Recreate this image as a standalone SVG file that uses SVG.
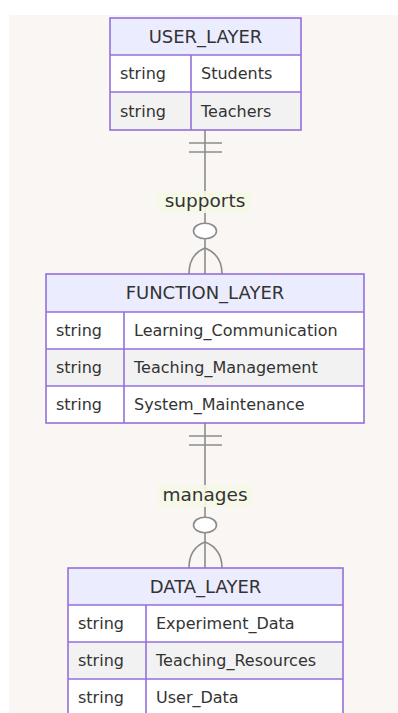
<svg xmlns="http://www.w3.org/2000/svg" width="398" height="713" viewBox="0 0 398 713">
  <style>
    .box { stroke: #9370db; stroke-width: 1.6; }
    .hdr { fill: #ececff; }
    .odd { fill: #ffffff; }
    .even { fill: #f2f2f2; }
    .div { stroke: #9370db; stroke-width: 1.6; }
    .title { font-family: "DejaVu Sans", "Liberation Sans", sans-serif; font-size: 18px; fill: #333333; text-anchor: middle; }
    .attr { font-family: "DejaVu Sans", "Liberation Sans", sans-serif; font-size: 16px; fill: #333333; }
    .rel { stroke: #8c8c8c; stroke-width: 1.6; fill: none; }
    .ring { stroke: #8c8c8c; stroke-width: 1.6; fill: #ffffff; }
    .lblbg { fill: #f5fae6; opacity: 0.9; }
    .lbl { font-family: "DejaVu Sans", "Liberation Sans", sans-serif; font-size: 18.5px; fill: #333333; text-anchor: middle; }
  </style>

  <!-- canvas -->
  <rect x="0" y="0" width="398" height="713" fill="#ffffff"/>
  <rect x="9" y="15" width="389" height="698" fill="#f9f6f4"/>

  <!-- relationships -->
  <g id="connectors">
    <g id="rel-supports">
      <line class="rel" x1="205" y1="130" x2="205" y2="274"/>
      <line class="rel" x1="189" y1="143" x2="222" y2="143"/>
      <line class="rel" x1="189" y1="152" x2="222" y2="152"/>
      <ellipse class="ring" cx="205" cy="231" rx="11.5" ry="7.8"/>
      <path class="rel" d="M189,274 C189,260 195,252 205,248 C215,252 222,260 222,274"/>
      <rect class="lblbg" x="157" y="191" width="95" height="22"/>
      <text class="lbl" x="205" y="207">supports</text>
    </g>
    <g id="rel-manages">
      <line class="rel" x1="205" y1="423" x2="205" y2="568"/>
      <line class="rel" x1="189" y1="436" x2="222" y2="436"/>
      <line class="rel" x1="189" y1="445" x2="222" y2="445"/>
      <ellipse class="ring" cx="205" cy="525" rx="11.5" ry="7.8"/>
      <path class="rel" d="M189,568 C189,554 195,546 205,542 C215,546 222,554 222,568"/>
      <rect class="lblbg" x="157" y="485" width="96" height="22"/>
      <text class="lbl" x="205" y="501">manages</text>
    </g>
  </g>

  <!-- USER_LAYER -->
  <g id="USER_LAYER">
    <rect class="hdr" x="110" y="18" width="191" height="37"/>
    <rect class="odd" x="110" y="55" width="191" height="37"/>
    <rect class="even" x="110" y="92" width="191" height="38"/>
    <rect class="box" x="110" y="18" width="191" height="112" fill="none"/>
    <line class="div" x1="110" y1="55" x2="301" y2="55"/>
    <line class="div" x1="110" y1="92" x2="301" y2="92"/>
    <line class="div" x1="191" y1="55" x2="191" y2="130"/>
    <text class="title" x="205.5" y="42.5">USER_LAYER</text>
    <text class="attr" x="120" y="79">string</text>
    <text class="attr" x="201" y="79">Students</text>
    <text class="attr" x="120" y="116.5">string</text>
    <text class="attr" x="201" y="116.5">Teachers</text>
  </g>

  <!-- FUNCTION_LAYER -->
  <g id="FUNCTION_LAYER">
    <rect class="hdr" x="46" y="274" width="318" height="38"/>
    <rect class="odd" x="46" y="312" width="318" height="37"/>
    <rect class="even" x="46" y="349" width="318" height="37"/>
    <rect class="odd" x="46" y="386" width="318" height="37"/>
    <rect class="box" x="46" y="274" width="318" height="149" fill="none"/>
    <line class="div" x1="46" y1="312" x2="364" y2="312"/>
    <line class="div" x1="46" y1="349" x2="364" y2="349"/>
    <line class="div" x1="46" y1="386" x2="364" y2="386"/>
    <line class="div" x1="124" y1="312" x2="124" y2="423"/>
    <text class="title" x="205" y="299">FUNCTION_LAYER</text>
    <text class="attr" x="56" y="336">string</text>
    <text class="attr" x="134" y="336">Learning_Communication</text>
    <text class="attr" x="56" y="373">string</text>
    <text class="attr" x="134" y="373">Teaching_Management</text>
    <text class="attr" x="56" y="410">string</text>
    <text class="attr" x="134" y="410">System_Maintenance</text>
  </g>

  <!-- DATA_LAYER -->
  <g id="DATA_LAYER">
    <rect class="hdr" x="68" y="568" width="275" height="37"/>
    <rect class="odd" x="68" y="605" width="275" height="37"/>
    <rect class="even" x="68" y="642" width="275" height="37"/>
    <rect class="odd" x="68" y="679" width="275" height="37"/>
    <rect class="box" x="68" y="568" width="275" height="148" fill="none"/>
    <line class="div" x1="68" y1="605" x2="343" y2="605"/>
    <line class="div" x1="68" y1="642" x2="343" y2="642"/>
    <line class="div" x1="68" y1="679" x2="343" y2="679"/>
    <line class="div" x1="146" y1="605" x2="146" y2="716"/>
    <text class="title" x="205.5" y="592.5">DATA_LAYER</text>
    <text class="attr" x="78" y="629">string</text>
    <text class="attr" x="156" y="629">Experiment_Data</text>
    <text class="attr" x="78" y="666">string</text>
    <text class="attr" x="156" y="666">Teaching_Resources</text>
    <text class="attr" x="78" y="703">string</text>
    <text class="attr" x="156" y="703">User_Data</text>
  </g>
</svg>
